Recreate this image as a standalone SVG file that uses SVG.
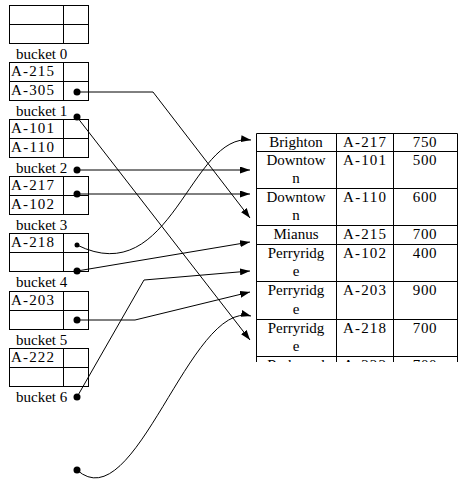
<svg xmlns="http://www.w3.org/2000/svg" width="470" height="494" viewBox="0 0 470 494">
<style>
.box{fill:#fff;stroke:#000;stroke-width:1}
.ln{fill:none;stroke:#000;stroke-width:1}
.t{font-family:"Liberation Serif","Times New Roman",serif;font-size:15px;fill:#000}
.c{text-anchor:middle}
.n{letter-spacing:0.6px}
.conn{fill:none;stroke:#000;stroke-width:1;marker-end:url(#ah)}
.dot{fill:#000}
</style>
<defs>
<marker id="ah" markerUnits="userSpaceOnUse" markerWidth="10" markerHeight="7" refX="10" refY="3.5" orient="auto">
<path d="M0,0 L10,3.5 L0,7 z" fill="#000"/>
</marker>
<clipPath id="tclip"><rect x="0" y="0" width="470" height="362"/></clipPath>
</defs>
<rect width="470" height="494" fill="#fff"/>

<g id="bucket0">
<rect class="box" x="9.5" y="5.5" width="79" height="38"/>
<path class="ln" d="M9.5,24.5H88.5M63.5,5.5V43.5"/>
<text class="t" x="16" y="58.5">bucket 0</text>
</g>
<g id="bucket1">
<rect class="box" x="9.5" y="62.5" width="79" height="38"/>
<path class="ln" d="M9.5,81.5H88.5M63.5,62.5V100.5"/>
<text class="t" x="11" y="76" textLength="43">A-215</text>
<text class="t" x="11" y="95" textLength="43">A-305</text>
<text class="t" x="16" y="116">bucket 1</text>
</g>
<g id="bucket2">
<rect class="box" x="9.5" y="119.5" width="79" height="38"/>
<path class="ln" d="M9.5,138.5H88.5M63.5,119.5V157.5"/>
<text class="t" x="11" y="133" textLength="43">A-101</text>
<text class="t" x="11" y="152" textLength="43">A-110</text>
<text class="t" x="16" y="173">bucket 2</text>
</g>
<g id="bucket3">
<rect class="box" x="9.5" y="176.5" width="79" height="38"/>
<path class="ln" d="M9.5,195.5H88.5M63.5,176.5V214.5"/>
<text class="t" x="11" y="190" textLength="43">A-217</text>
<text class="t" x="11" y="209" textLength="43">A-102</text>
<text class="t" x="16" y="230">bucket 3</text>
</g>
<g id="bucket4">
<rect class="box" x="9.5" y="233.5" width="79" height="38"/>
<path class="ln" d="M9.5,252.5H88.5M63.5,233.5V271.5"/>
<text class="t" x="11" y="247" textLength="43">A-218</text>
<text class="t" x="16" y="287">bucket 4</text>
</g>
<g id="bucket5">
<rect class="box" x="9.5" y="291.5" width="79" height="38"/>
<path class="ln" d="M9.5,310.5H88.5M63.5,291.5V329.5"/>
<text class="t" x="11" y="305" textLength="43">A-203</text>
<text class="t" x="16" y="344.5">bucket 5</text>
</g>
<g id="bucket6">
<rect class="box" x="9.5" y="348.5" width="79" height="38"/>
<path class="ln" d="M9.5,367.5H88.5M63.5,348.5V386.5"/>
<text class="t" x="11" y="362" textLength="43">A-222</text>
<text class="t" x="16" y="401.5">bucket 6</text>
</g>

<g id="account-table">
<g clip-path="url(#tclip)">
<path class="ln" d="M256.5,133.5H457.5M256.5,151.5H457.5M256.5,188.5H457.5M256.5,225.5H457.5M256.5,244.5H457.5M256.5,281.5H457.5M256.5,319.5H457.5M256.5,356.5H457.5M256.5,133.5V370M336.5,133.5V370M393.5,133.5V370M457.5,133.5V370"/>
<text class="t c" x="296" y="146.5">Brighton</text>
<text class="t c" x="364.5" y="146.5" textLength="43">A-217</text>
<text class="t c n" x="425" y="146.5">750</text>
<text class="t c" x="296" y="164.5">Downtow</text>
<text class="t c" x="296" y="183">n</text>
<text class="t c" x="364.5" y="164.5" textLength="43">A-101</text>
<text class="t c n" x="425" y="164.5">500</text>
<text class="t c" x="296" y="201.5">Downtow</text>
<text class="t c" x="296" y="220">n</text>
<text class="t c" x="364.5" y="201.5" textLength="43">A-110</text>
<text class="t c n" x="425" y="201.5">600</text>
<text class="t c" x="296" y="239">Mianus</text>
<text class="t c" x="364.5" y="239" textLength="43">A-215</text>
<text class="t c n" x="425" y="239">700</text>
<text class="t c" x="296" y="257.5">Perryridg</text>
<text class="t c" x="296" y="276">e</text>
<text class="t c" x="364.5" y="257.5" textLength="43">A-102</text>
<text class="t c n" x="425" y="257.5">400</text>
<text class="t c" x="296" y="295">Perryridg</text>
<text class="t c" x="296" y="313.5">e</text>
<text class="t c" x="364.5" y="295" textLength="43">A-203</text>
<text class="t c n" x="425" y="295">900</text>
<text class="t c" x="296" y="332.5">Perryridg</text>
<text class="t c" x="296" y="351">e</text>
<text class="t c" x="364.5" y="332.5" textLength="43">A-218</text>
<text class="t c n" x="425" y="332.5">700</text>
<text class="t c" x="296" y="370">Redwood</text>
<text class="t c" x="364.5" y="370" textLength="43">A-222</text>
<text class="t c n" x="425" y="370">700</text>
</g>
</g>

<g id="connectors">
<path class="conn" d="M77,92H153L250,218"/>
<path class="conn" d="M77,117L250,340"/>
<path class="conn" d="M77,170H250"/>
<path class="conn" d="M77,194H250"/>
<path class="conn" d="M77,245C172,292 190,132 251,140"/>
<path class="conn" d="M77,271L250,242"/>
<path class="conn" d="M77,320H135L250,292"/>
<path class="conn" d="M77,397L144,280L250,271"/>
<path class="conn" d="M77,470C135,522 190,300 251,316"/>
<circle class="dot" cx="77" cy="92" r="3.5"/>
<circle class="dot" cx="77" cy="117" r="3.5"/>
<circle class="dot" cx="77" cy="170" r="3.5"/>
<circle class="dot" cx="77" cy="194" r="3.5"/>
<circle class="dot" cx="77" cy="245" r="2.5"/>
<circle class="dot" cx="77" cy="271" r="3.5"/>
<circle class="dot" cx="77" cy="320" r="3.5"/>
<circle class="dot" cx="77" cy="397" r="3.5"/>
<circle class="dot" cx="77" cy="470" r="3.5"/>
</g>
</svg>
